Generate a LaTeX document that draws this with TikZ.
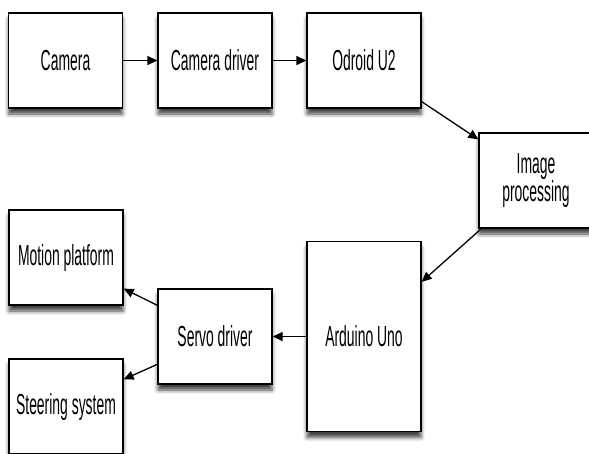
\documentclass[tikz,border=0pt]{standalone}
\usepackage{fontspec}
\newfontfamily\lblfont[FakeStretch=0.48]{Liberation Sans}
\usetikzlibrary{arrows.meta,shadows.blur}
\begin{document}
\begin{tikzpicture}[x=1pt,y=1pt,
  box/.style={draw=black, line width=1.3pt, fill=white, minimum width=114pt,
    minimum height=95pt, inner sep=0pt, align=center,
    font=\lblfont\fontsize{29}{27}\selectfont,
    blur shadow={shadow xshift=0pt, shadow yshift=-6pt, shadow opacity=75, shadow blur radius=4pt}},
  conn/.style={line width=1.3pt, -{Triangle[length=10pt,width=9pt]}}]
\useasboundingbox (0,0) rectangle (589,-453);
\clip (0,0) rectangle (589,-453);
\node[box] (cam) at (65.5,-60.5) {Camera};
\node[box] (drv) at (215,-60.5) {Camera driver};
\node[box] (odr) at (364,-60.5) {Odroid U2};
\node[box] (img) at (536,-180.5) {Image\\processing};
\node[box, minimum height=190pt] (ard) at (364,-336.5) {Arduino Uno};
\node[box] (srv) at (215,-336.5) {Servo driver};
\node[box] (mot) at (66,-257.5) {Motion platform};
\node[box] (ste) at (66,-406.5) {Steering system};
\draw[conn] (cam) -- (drv);
\draw[conn] (drv) -- (odr);
\draw[conn] ([yshift=7pt]odr.south east) -- ([yshift=-7pt]img.north west);
\draw[conn] ([xshift=3pt]img.south west) -- ([yshift=-41pt]ard.north east);
\draw[conn] (ard) -- (srv);
\draw[conn] ([yshift=-17pt]srv.north west) -- ([yshift=17pt]mot.south east);
\draw[conn] ([yshift=-76pt]srv.north west) -- ([yshift=-21pt]ste.north east);
\end{tikzpicture}
\end{document}
